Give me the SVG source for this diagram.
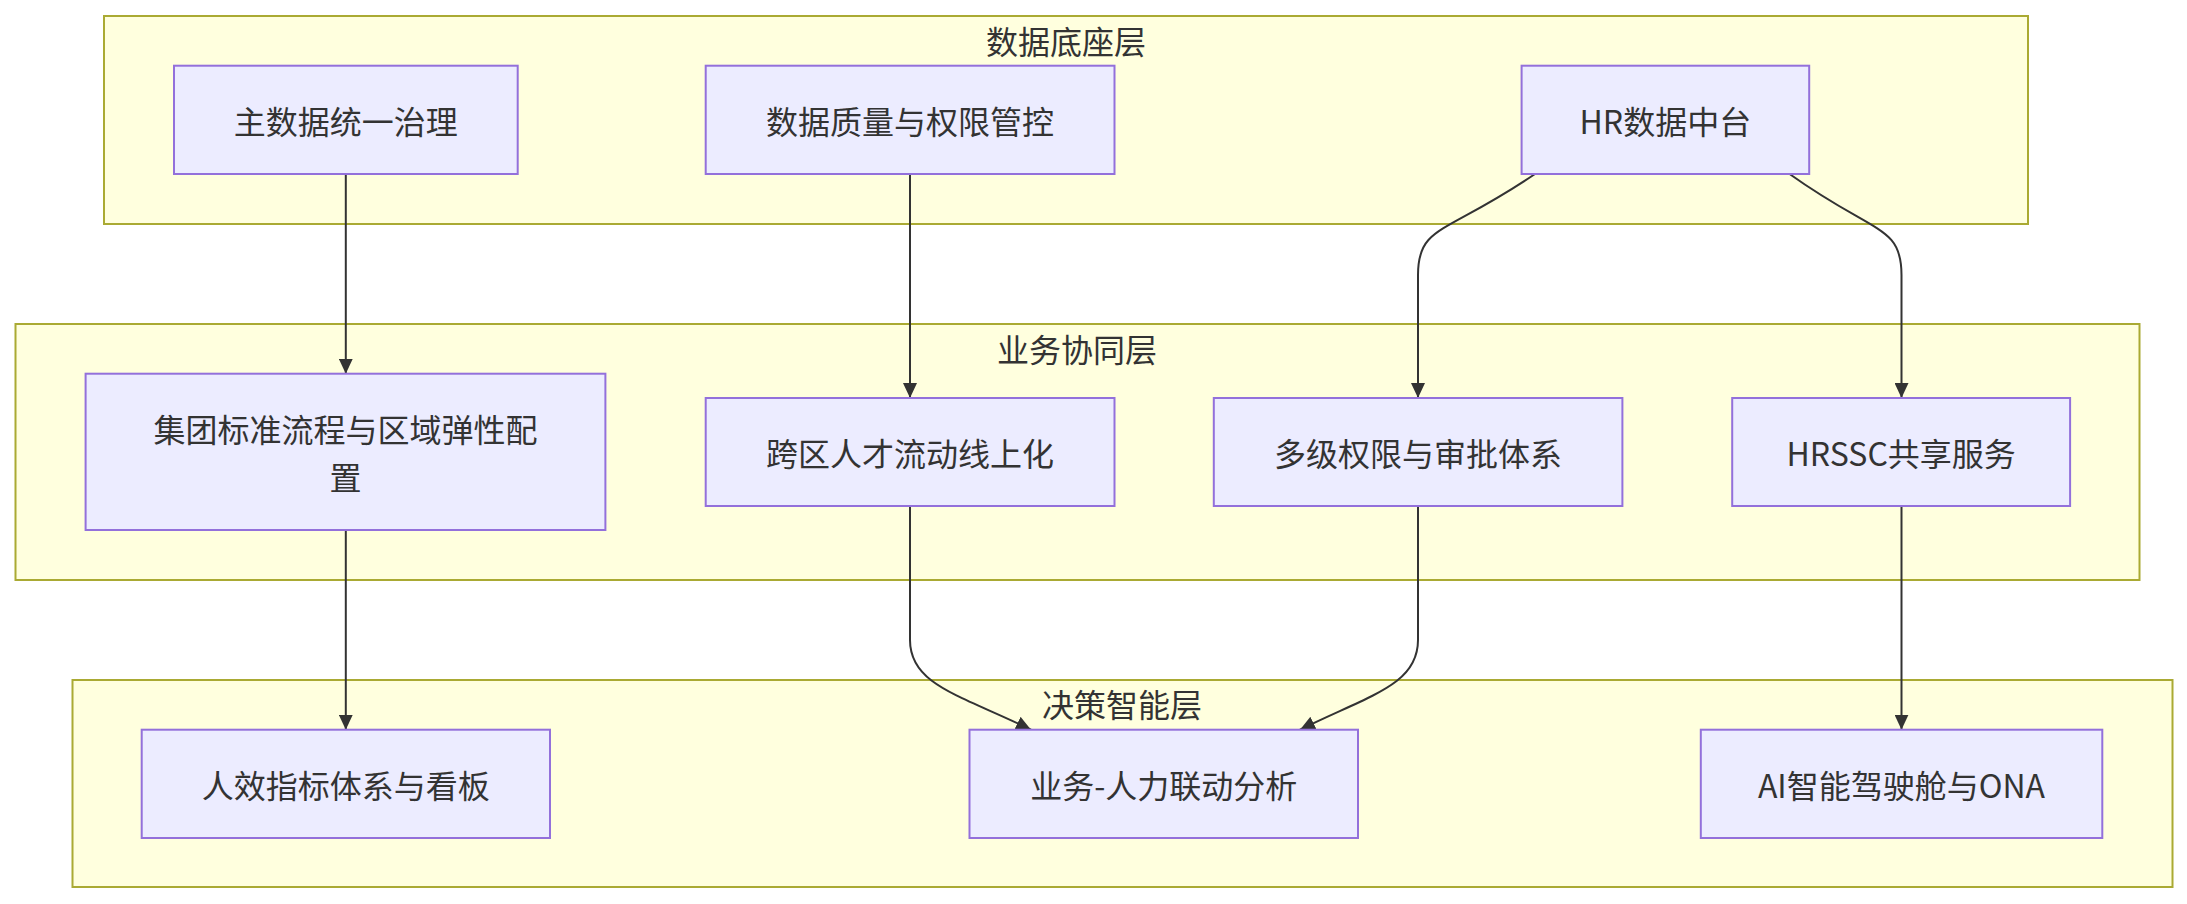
<svg xmlns="http://www.w3.org/2000/svg" width="2187" height="904" viewBox="0 0 2187 904">
<style>
.cluster{fill:#ffffde;stroke:#aaaa33;stroke-width:2}
.node rect{fill:#ececff;stroke:#9370db;stroke-width:2}
text{font-family:"Noto Sans CJK SC","Noto Sans",sans-serif;font-size:32px;fill:#333333;text-anchor:middle;dominant-baseline:central}
.edge{fill:none;stroke:#333333;stroke-width:2}
</style>
<defs>
<marker id="arr" viewBox="0 0 10 10" refX="10" refY="5" markerWidth="15" markerHeight="14" markerUnits="userSpaceOnUse" orient="auto" preserveAspectRatio="none">
<path d="M0,0 L10,5 L0,10 z" fill="#333333"/>
</marker>
</defs>
<g id="clusters">
<g id="layer-data"><rect class="cluster" x="104" y="16" width="1924" height="208"/><text x="1066" y="40">数据底座层</text></g>
<g id="layer-biz"><rect class="cluster" x="15.5" y="324" width="2124" height="256"/><text x="1077" y="348">业务协同层</text></g>
<g id="layer-decision"><rect class="cluster" x="72.5" y="680" width="2100" height="207"/><text x="1122" y="703">决策智能层</text></g>
</g>
<g id="edges">
<path class="edge" d="M345.8,174 L345.8,373.7" marker-end="url(#arr)"/>
<path class="edge" d="M910,174 L910,398" marker-end="url(#arr)"/>
<path class="edge" d="M1535,174 C1445,235 1418,225 1418,275 L1418,398" marker-end="url(#arr)"/>
<path class="edge" d="M1789.6,174 C1875,235 1901.5,225 1901.5,275 L1901.5,398" marker-end="url(#arr)"/>
<path class="edge" d="M345.8,530 L345.8,729.7" marker-end="url(#arr)"/>
<path class="edge" d="M910,506 L910,640 C910,685 960,695 1031,729.7" marker-end="url(#arr)"/>
<path class="edge" d="M1418,506 L1418,640 C1418,685 1370,695 1300,729.7" marker-end="url(#arr)"/>
<path class="edge" d="M1901.5,506 L1901.5,729.7" marker-end="url(#arr)"/>
</g>
<g id="n-master" class="node"><rect x="174" y="65.7" width="343.7" height="108.3"/><text x="345.8" y="120">主数据统一治理</text></g>
<g id="n-quality" class="node"><rect x="705.7" y="65.7" width="408.8" height="108.3"/><text x="910" y="120">数据质量与权限管控</text></g>
<g id="n-hrdata" class="node"><rect x="1521.6" y="65.7" width="287.6" height="108.3"/><text x="1665.4" y="120">HR数据中台</text></g>
<g id="n-process" class="node"><rect x="85.6" y="373.7" width="519.8" height="156.3"/><text x="345.5" y="428">集团标准流程与区域弹性配</text><text x="345.5" y="476">置</text></g>
<g id="n-talent" class="node"><rect x="705.7" y="398" width="408.8" height="108"/><text x="910" y="452">跨区人才流动线上化</text></g>
<g id="n-approval" class="node"><rect x="1213.8" y="398" width="408.6" height="108"/><text x="1418" y="452">多级权限与审批体系</text></g>
<g id="n-hrssc" class="node"><rect x="1732.2" y="398" width="337.9" height="108"/><text x="1901.2" y="452">HRSSC共享服务</text></g>
<g id="n-kpi" class="node"><rect x="141.7" y="729.7" width="408.3" height="108.3"/><text x="345.8" y="784">人效指标体系与看板</text></g>
<g id="n-analysis" class="node"><rect x="969.5" y="729.7" width="388.5" height="108.3"/><text x="1163.7" y="784">业务-人力联动分析</text></g>
<g id="n-ai" class="node"><rect x="1700.8" y="729.7" width="401.5" height="108.3"/><text x="1901.5" y="784">AI智能驾驶舱与ONA</text></g>
</svg>
